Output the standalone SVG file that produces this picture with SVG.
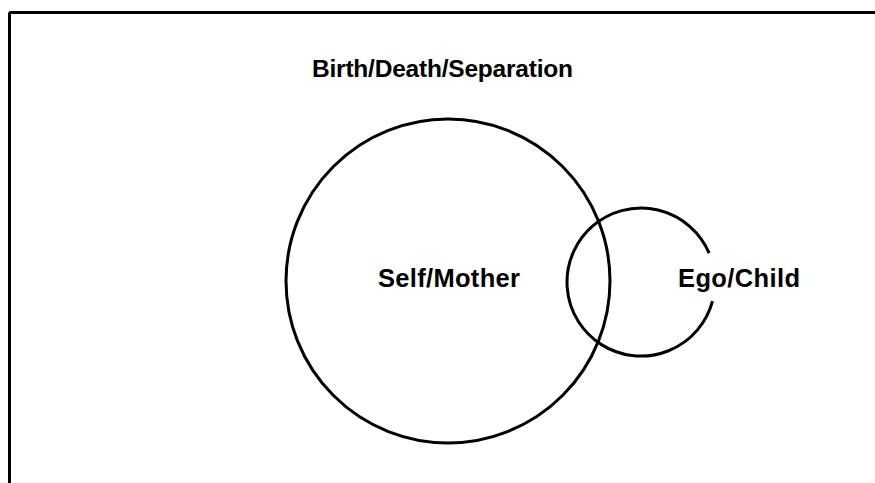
<svg xmlns="http://www.w3.org/2000/svg" width="875" height="483" viewBox="0 0 875 483">
<style>
.ln{fill:none;stroke:#000;stroke-width:3}
.t{font-family:"Liberation Sans",Arial,sans-serif;font-weight:bold;fill:#000}
</style>
<rect width="875" height="483" fill="#fff"/>
<g id="frame"><path class="ln" d="M9.5 483 V14 Q9.5 12.5 11 12.5 H875" stroke-width="2.5"/></g>
<g id="title"><text class="t" x="312" y="77" font-size="24.5" textLength="261">Birth/Death/Separation</text></g>
<g id="self-mother">
<circle class="ln" cx="448" cy="281" r="162"/>
<text class="t" x="378" y="287" font-size="25.5" textLength="142">Self/Mother</text>
</g>
<g id="ego-child">
<path class="ln" d="M712.5 301.2 A74 74 0 1 1 709.1 253.1"/>
<text class="t" x="678" y="287" font-size="25.5" textLength="122">Ego/Child</text>
</g>
<g id="connectors"/>
</svg>
